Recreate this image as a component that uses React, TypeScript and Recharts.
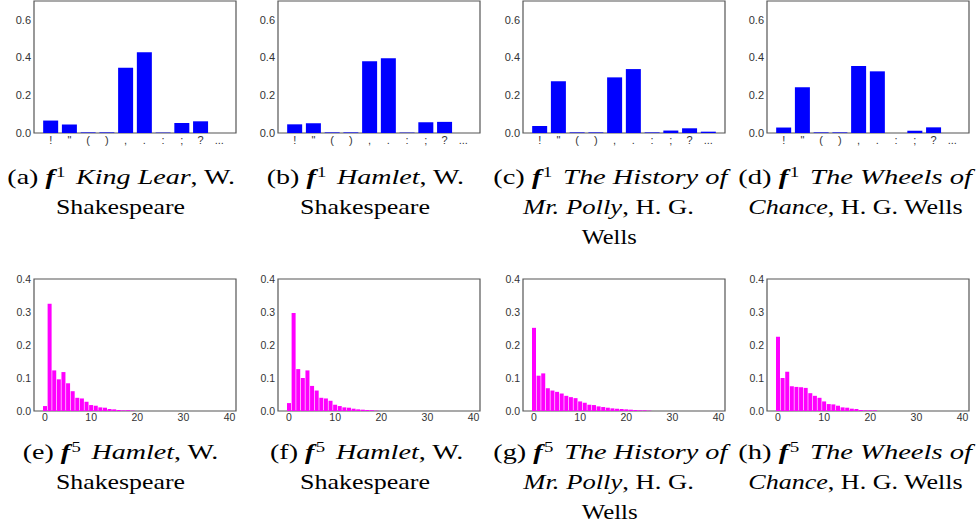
import React from "react";
import { BarChart, Bar, XAxis, YAxis, ReferenceArea } from "recharts";

// ---------- data ----------
const punctuationMarks = ["!", "\"", "(", ")", ",", ".", ":", ";", "?", "..."];

const f1KingLear = [0.066, 0.045, 0.003, 0.003, 0.346, 0.428, 0.002, 0.053, 0.062, 0.0];
const f1Hamlet = [0.046, 0.052, 0.003, 0.003, 0.381, 0.397, 0.002, 0.057, 0.059, 0.0];
const f1Polly = [0.037, 0.275, 0.003, 0.003, 0.295, 0.339, 0.003, 0.013, 0.025, 0.007];
const f1Wheels = [0.029, 0.243, 0.003, 0.003, 0.355, 0.327, 0.0, 0.012, 0.030, 0.0];

const f5HamletE = [
  0.015, 0.325, 0.123, 0.096, 0.118, 0.084, 0.060, 0.040, 0.038, 0.028,
  0.018, 0.016, 0.011, 0.010, 0.006, 0.005, 0.003, 0.002, 0.002, 0.001,
  0, 0, 0, 0, 0, 0, 0, 0, 0, 0,
  0, 0, 0, 0, 0, 0, 0, 0, 0, 0,
];
const f5HamletF = [
  0.024, 0.297, 0.127, 0.100, 0.123, 0.076, 0.062, 0.040, 0.038, 0.031,
  0.019, 0.015, 0.011, 0.010, 0.007, 0.005, 0.004, 0.003, 0.002, 0.001,
  0, 0, 0, 0, 0, 0, 0, 0, 0, 0,
  0, 0, 0, 0, 0, 0, 0, 0, 0, 0,
];
const f5Polly = [
  0.252, 0.107, 0.114, 0.069, 0.062, 0.058, 0.053, 0.046, 0.042, 0.039,
  0.029, 0.025, 0.019, 0.018, 0.014, 0.012, 0.010, 0.008, 0.007, 0.006,
  0.005, 0.004, 0.003, 0.002, 0.002, 0.001, 0, 0, 0, 0,
  0, 0, 0, 0, 0, 0, 0, 0, 0, 0,
];
const f5Wheels = [
  0.225, 0.100, 0.119, 0.075, 0.073, 0.072, 0.070, 0.054, 0.046, 0.040,
  0.029, 0.021, 0.020, 0.016, 0.011, 0.010, 0.007, 0.006, 0.003, 0.002,
  0.002, 0.002, 0, 0, 0, 0, 0, 0, 0, 0,
  0, 0, 0, 0, 0, 0, 0, 0, 0, 0,
];

const f1YTicks = [0, 0.2, 0.4, 0.6];
const f1YMax = 0.7;
const f5YTicks = [0, 0.1, 0.2, 0.3, 0.4];
const f5YMax = 0.4;
const f5XTicks = [0, 10, 20, 30, 40];

// ---------- style ----------
const FRAME = "#555555";
const TICK = "#333333";
const SANS = "'Liberation Sans', Arial, sans-serif";
const SERIF = "'Liberation Serif', 'Times New Roman', serif";
const BLUE = "#0000ff";
const MAGENTA = "#ff00ff";

const plotLefts = [34, 278, 523, 767];
const PLOT_W = 202;

function PunctChart({ values, left }: { values: number[]; left: number }) {
  const rows = values.map((v, i) => ({ pos: i, value: v }));
  const xDomain = [-0.89, punctuationMarks.length - 1 + 0.89];
  return (
    <div style={{ position: "absolute", left: left - 34, top: 0 }}>
      <BarChart
        width={34 + PLOT_W + 5}
        height={1 + 132 + 20}
        data={rows}
        margin={{ top: 1, right: 5, bottom: 0, left: 0 }}
        barCategoryGap="9.9%"
      >
        <XAxis
          dataKey="pos"
          type="number"
          domain={xDomain}
          ticks={punctuationMarks.map((_, i) => i)}
          tickFormatter={(i: number) => punctuationMarks[i]}
          interval={0}
          axisLine={false}
          tickLine={false}
          tickSize={0}
          tickMargin={3}
          height={20}
          tick={{ fontSize: 11, fill: TICK, fontFamily: SANS }}
        />
        <YAxis
          type="number"
          domain={[0, f1YMax]}
          ticks={f1YTicks}
          tickFormatter={(v: number) => v.toFixed(1)}
          interval={0}
          axisLine={false}
          tickLine={false}
          tickSize={0}
          tickMargin={3}
          width={34}
          tick={{ fontSize: 11, fill: TICK, fontFamily: SANS }}
        />
        <Bar dataKey="value" fill={BLUE} isAnimationActive={false} />
        <ReferenceArea
          x1={xDomain[0]}
          x2={xDomain[1]}
          y1={0}
          y2={f1YMax}
          fill="none"
          fillOpacity={0}
          stroke={FRAME}
          strokeWidth={1.2}
          ifOverflow="visible"
        />
      </BarChart>
    </div>
  );
}

function LengthChart({ values, left }: { values: number[]; left: number }) {
  const rows = values.map((v, i) => ({ len: i, value: v }));
  const xDomain = [-2.39, values.length - 1 + 2.39];
  return (
    <div style={{ position: "absolute", left: left - 34, top: 271 }}>
      <BarChart
        width={34 + PLOT_W + 8}
        height={8 + 132 + 20}
        data={rows}
        margin={{ top: 8, right: 8, bottom: 0, left: 0 }}
        barCategoryGap="6%"
      >
        <XAxis
          dataKey="len"
          type="number"
          domain={xDomain}
          ticks={f5XTicks}
          interval={0}
          axisLine={false}
          tickLine={false}
          tickSize={0}
          tickMargin={3}
          height={20}
          tick={{ fontSize: 10.5, fill: TICK, fontFamily: SANS }}
        />
        <YAxis
          type="number"
          domain={[0, f5YMax]}
          ticks={f5YTicks}
          tickFormatter={(v: number) => v.toFixed(1)}
          interval={0}
          axisLine={false}
          tickLine={false}
          tickSize={0}
          tickMargin={3}
          width={34}
          tick={{ fontSize: 10.5, fill: TICK, fontFamily: SANS }}
        />
        <Bar dataKey="value" fill={MAGENTA} isAnimationActive={false} />
        <ReferenceArea
          x1={xDomain[0]}
          x2={xDomain[1]}
          y1={0}
          y2={f5YMax}
          fill="none"
          fillOpacity={0}
          stroke={FRAME}
          strokeWidth={1.2}
          ifOverflow="visible"
        />
      </BarChart>
    </div>
  );
}

// ---------- captions ----------
type Seg = { t: string; s?: "i" | "bi" | "sup" };

function fLabel(tag: string, power: string): Seg[] {
  return [
    { t: `(${tag}) ` },
    { t: "f", s: "bi" },
    { t: power, s: "sup" },
  ];
}

type CapLine = { x: number; y: number; w: number; segs: Seg[] };

const captionLines: CapLine[] = [
  // top row
  { x: 7.3, y: 184, w: 227.7, segs: [...fLabel("a", "1"), { t: "King Lear", s: "i" }, { t: ", W." }] },
  { x: 56, y: 214, w: 129, segs: [{ t: "Shakespeare" }] },
  { x: 266.7, y: 184, w: 197.3, segs: [...fLabel("b", "1"), { t: "Hamlet", s: "i" }, { t: ", W." }] },
  { x: 300, y: 214, w: 130, segs: [{ t: "Shakespeare" }] },
  { x: 493.3, y: 184, w: 234, segs: [...fLabel("c", "1"), { t: "The History of", s: "i" }] },
  { x: 523, y: 214, w: 171, segs: [{ t: "Mr. Polly", s: "i" }, { t: ", H. G." }] },
  { x: 581.7, y: 244, w: 55, segs: [{ t: "Wells" }] },
  { x: 738.3, y: 184, w: 233.7, segs: [...fLabel("d", "1"), { t: "The Wheels of", s: "i" }] },
  { x: 748.3, y: 214, w: 214.4, segs: [{ t: "Chance", s: "i" }, { t: ", H. G. Wells" }] },
  // bottom row
  { x: 22.7, y: 459.3, w: 195.6, segs: [...fLabel("e", "5"), { t: "Hamlet", s: "i" }, { t: ", W." }] },
  { x: 56, y: 489, w: 129, segs: [{ t: "Shakespeare" }] },
  { x: 270, y: 459.3, w: 193.3, segs: [...fLabel("f", "5"), { t: "Hamlet", s: "i" }, { t: ", W." }] },
  { x: 300, y: 489, w: 130, segs: [{ t: "Shakespeare" }] },
  { x: 493.3, y: 459.3, w: 234, segs: [...fLabel("g", "5"), { t: "The History of", s: "i" }] },
  { x: 523.3, y: 489, w: 170.7, segs: [{ t: "Mr. Polly", s: "i" }, { t: ", H. G." }] },
  { x: 581.7, y: 519, w: 56, segs: [{ t: "Wells" }] },
  { x: 738.3, y: 459.3, w: 233.7, segs: [...fLabel("h", "5"), { t: "The Wheels of", s: "i" }] },
  { x: 748.3, y: 489, w: 214.4, segs: [{ t: "Chance", s: "i" }, { t: ", H. G. Wells" }] },
];

function renderSegs(segs: Seg[]) {
  const out: React.ReactNode[] = [];
  let raised = false;
  segs.forEach((sg, k) => {
    if (sg.s === "sup") {
      out.push(
        <tspan key={k} fontSize={14} dy={-7} dx={1}>
          {sg.t}
        </tspan>
      );
      raised = true;
      return;
    }
    const props: any = { key: k };
    let text = sg.t;
    if (raised) {
      props.dy = 7;
      props.dx = 8;
      raised = false;
    }
    if (sg.s === "i") props.fontStyle = "italic";
    if (sg.s === "bi") {
      props.fontStyle = "italic";
      props.fontWeight = "bold";
    }
    out.push(<tspan {...props}>{text}</tspan>);
  });
  return out;
}

function Captions() {
  return (
    <svg
      width={977}
      height={529}
      style={{ position: "absolute", left: 0, top: 0, pointerEvents: "none", overflow: "visible" }}
    >
      {captionLines.map((ln, i) => (
        <text
          key={i}
          x={ln.x}
          y={ln.y}
          textLength={ln.w}
          lengthAdjust="spacingAndGlyphs"
          fontFamily={SERIF}
          fontSize={21}
          fill="#000"
          style={{ whiteSpace: "pre" }}
        >
          {renderSegs(ln.segs)}
        </text>
      ))}
    </svg>
  );
}

export default function App() {
  return (
    <div
      style={{
        position: "absolute",
        left: 0,
        top: 0,
        width: 977,
        height: 529,
        background: "#ffffff",
        overflow: "hidden",
      }}
    >
      <PunctChart values={f1KingLear} left={plotLefts[0]} />
      <PunctChart values={f1Hamlet} left={plotLefts[1]} />
      <PunctChart values={f1Polly} left={plotLefts[2]} />
      <PunctChart values={f1Wheels} left={plotLefts[3]} />
      <LengthChart values={f5HamletE} left={plotLefts[0]} />
      <LengthChart values={f5HamletF} left={plotLefts[1]} />
      <LengthChart values={f5Polly} left={plotLefts[2]} />
      <LengthChart values={f5Wheels} left={plotLefts[3]} />
      <Captions />
    </div>
  );
}
